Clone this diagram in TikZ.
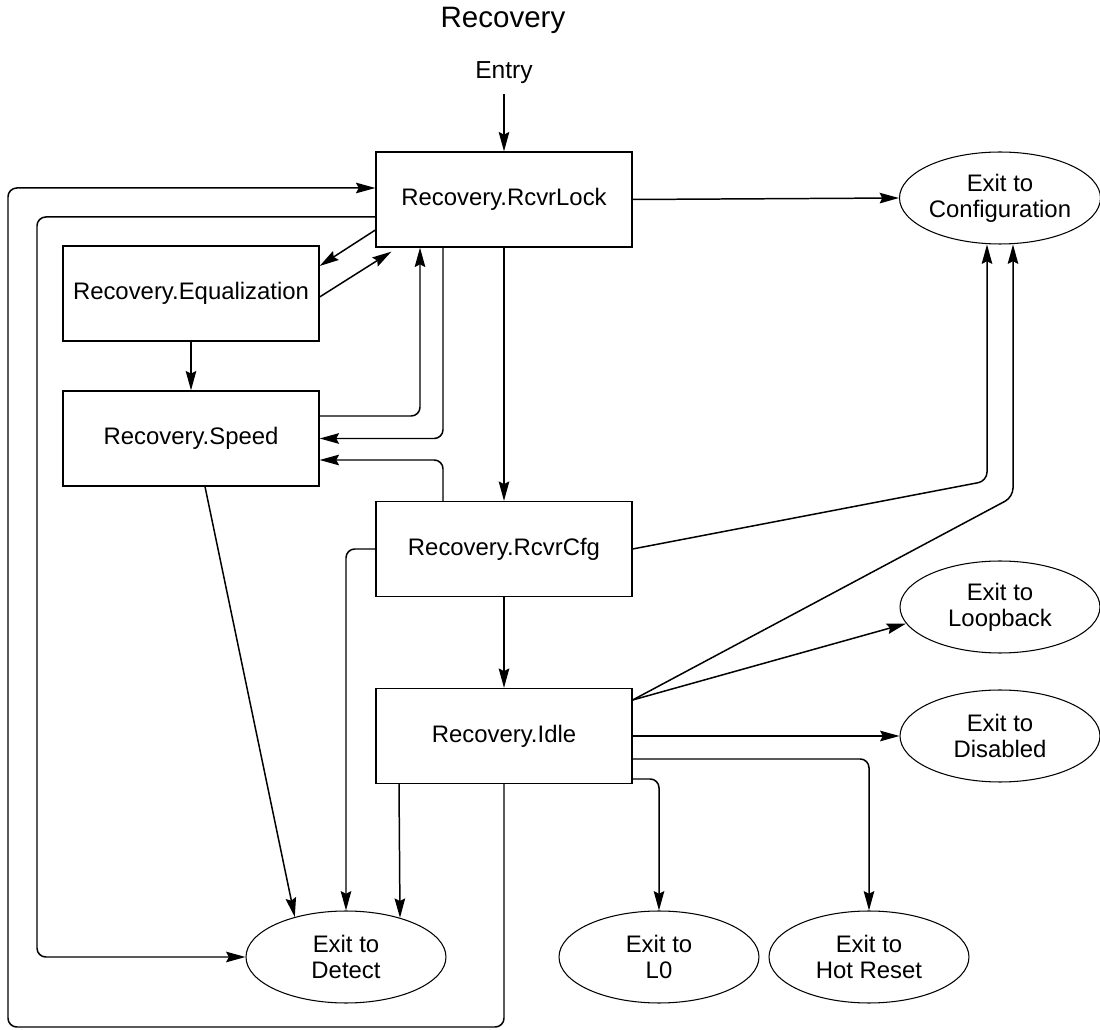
\documentclass[tikz,border=0pt]{standalone}
\usepackage{fontspec}
\setmainfont{Liberation Sans}
\usetikzlibrary{arrows.meta,shapes.geometric}
\tikzset{>={Stealth[length=11pt,width=6pt,inset=1.5pt]}}
\tikzset{
  substate/.style={draw,line width=0.75pt,minimum width=5.12cm,minimum height=1.9cm,
    inner sep=0pt,font=\fontsize{13.6}{15}\selectfont},
  exitstate/.style={draw,ellipse,line width=0.6pt,minimum width=4cm,minimum height=1.84cm,
    inner sep=0pt,align=center,font=\fontsize{13.6}{14.7}\selectfont},
  trans/.style={->,line width=0.85pt,rounded corners=5pt},
}
\begin{document}
\begin{tikzpicture}[x=0.02cm,y=-0.02cm]
  \useasboundingbox (0,0) rectangle (1100,1030);
  \node[font=\fontsize{16.8}{20}\selectfont] (title) at (503,20) {Recovery};
  \node[font=\fontsize{14}{16}\selectfont,inner sep=0.2cm] (entry) at (504,73) {Entry};
  % substates
  \node[substate] (lock) at (504,199.5) {Recovery.RcvrLock};
  \node[substate] (eq) at (191,293.5) {Recovery.Equalization};
  \node[substate] (speed) at (191,438.5) {Recovery.Speed};
  \node[substate] (cfg) at (504,549) {Recovery.RcvrCfg};
  \node[substate] (idle) at (504,736) {Recovery.Idle};
  % exits
  \node[exitstate] (conf) at (1000,198) {Exit to\\Configuration};
  \node[exitstate] (loop) at (1000,607) {Exit to\\Loopback};
  \node[exitstate] (dis) at (1000,736) {Exit to\\Disabled};
  \node[exitstate] (det) at (346,957) {Exit to\\Detect};
  \node[exitstate] (lzero) at (659,957) {Exit to\\L0};
  \node[exitstate] (hot) at (869,957) {Exit to\\Hot Reset};

  \draw[trans] (entry.south) -- (lock.north);
  \draw[trans] (lock.east) -- (conf.west);
  \draw[trans] (lock.south) -- (cfg.north);
  \draw[trans] (cfg.south) -- (idle.north);
  \draw[trans] (lock.west |- 0,230) -- (eq.east |- 0,266);
  \draw[trans] (eq.east |- 0,297) -- ([xshift=0.32cm,yshift=-0.08cm]lock.south west);
  \draw[trans] (eq.south) -- (speed.north);
  \draw[trans] (speed.east |- 0,416) -| (lock.south -| 420,0);
  \draw[trans] (lock.south -| 443,0) |- (speed.east);
  \draw[trans] (cfg.north -| 443,0) |- (speed.east |- 0,460);
  \draw[trans] (cfg.east) -- (987,481) -- (conf.south -| 987,0);
  \draw[trans] (idle.north east |- 0,700) -- (1013,497) -- (conf.south -| 1013,0);
  \draw[trans] (idle.north east |- 0,700) -- (loop.190);
  \draw[trans] (idle.east) -- (dis.west);
  \draw[trans] (idle.east |- 0,759) -| (hot.north);
  \draw[trans] (idle.east |- 0,779) -| (lzero.north);
  \draw[trans] (cfg.west) -| (det.north);
  \draw[trans] (idle.south -| 399,0) -- (det.36);
  \draw[trans] (speed.south -| 205,0) -- (det.142);
  % loops round the left side
  \draw[trans] (lock.west |- 0,217) -| (37,0 |- det.west) -- (det.west);
  \draw[trans] (idle.south) |- (8,1027) |- (lock.west |- 0,188);
\end{tikzpicture}
\end{document}
